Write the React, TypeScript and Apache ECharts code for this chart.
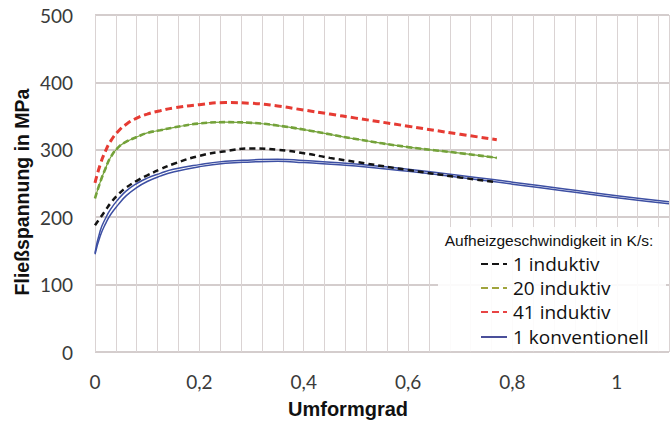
import React, { useEffect, useRef } from "react";
import * as echarts from "echarts";

const seriesNames = ["1 induktiv", "20 induktiv", "41 induktiv", "1 konventionell"];
const legendTitle = "Aufheizgeschwindigkeit in K/s:";
const xTitle = "Umformgrad";
const yTitle = "Fließspannung in MPa";
const xTickLabels = ["0", "0,2", "0,4", "0,6", "0,8", "1"];

const xInd = [0, 0.01, 0.02, 0.03, 0.045, 0.06, 0.08, 0.1, 0.125, 0.15, 0.2, 0.25, 0.3, 0.35, 0.4, 0.45, 0.5, 0.6, 0.7, 0.77];
const yBlack = [188, 199, 210, 221, 234, 244, 254, 262, 271, 279, 291, 298, 302, 300, 295, 288, 282, 270, 259, 252];
const yGreen = [228, 252, 272, 289, 304, 312, 319, 325, 329, 333, 339, 341, 340, 336, 330, 323, 316, 304, 295, 288];
const yRed = [251, 278, 298, 313, 328, 338, 347, 353, 358, 362, 367, 370, 369, 365, 359, 353, 347, 335, 323, 315];

const xKonv = [0, 0.01, 0.02, 0.03, 0.045, 0.06, 0.08, 0.1, 0.125, 0.15, 0.2, 0.25, 0.3, 0.35, 0.4, 0.5, 0.6, 0.7, 0.8, 0.9, 1.0, 1.1];
const yBlueA = [145, 172, 190, 204, 219, 232, 244, 253, 261, 267, 275, 280, 282, 283, 281, 276, 268, 259, 249, 239, 229, 220];
const yBlueB = [147, 180, 198, 212, 227, 239, 250, 258, 265, 271, 278, 283, 285, 286, 284, 279, 271, 262, 252, 242, 232, 223];

const pairs = (xs: number[], ys: number[]) => xs.map((x, i) => [x, ys[i]]);

export default function App() {
  const ref = useRef<HTMLDivElement>(null);
  useEffect(() => {
    if (!ref.current) return;
    const chart = echarts.init(ref.current, null, { renderer: "svg" });
    const black = "#141414";
    const green = "#74a23a";
    const red = "#e63b33";
    const blue = "#3d4fa3";
    const lineBase = { type: "line", showSymbol: false, symbol: "none", smooth: 0.5 };
    const legendRows = [264, 288, 312, 337];
    const legendColors = [black, "#a0a43c", "#e84444", "#4a4f9a"];
    const legendDash = [[7, 4], [7, 4], [7, 4], null];
    const graphics: any[] = [
      { type: "rect", shape: { x: 438, y: 227, width: 228, height: 124 }, style: { fill: "rgba(255,255,255,0.9)" }, z: 10 },
      { type: "text", x: 549, y: 240, z: 11, style: { text: legendTitle, font: "15.5px 'Liberation Sans'", lineHeight: 16, fill: "#111", align: "center", verticalAlign: "middle" } },
      { type: "text", x: 22, y: 192, rotation: Math.PI / 2, z: 11, style: { text: yTitle, font: "bold 19.5px 'Liberation Sans'", fill: "#111", align: "center", verticalAlign: "middle" } },
      { type: "text", x: 348, y: 409, z: 11, style: { text: xTitle, font: "bold 20px 'Liberation Sans'", fill: "#111", align: "center", verticalAlign: "middle" } },
    ];
    seriesNames.forEach((n, i) => {
      graphics.push({
        type: "line", z: 11,
        shape: { x1: 481, y1: legendRows[i], x2: 507, y2: legendRows[i] },
        style: { stroke: legendColors[i], lineWidth: 2, lineDash: legendDash[i] || undefined },
      });
      graphics.push({
        type: "text", x: 513, y: legendRows[i], z: 11,
        style: { text: n, font: "19px 'Open Sans'", lineHeight: 20, fill: "#111", align: "left", verticalAlign: "middle" },
      });
    });
    chart.setOption({
      animation: false,
      grid: { left: 95, right: 1, top: 15, bottom: 71 },
      xAxis: {
        type: "value", min: 0, max: 1.1, interval: 0.04,
        axisLine: { show: false }, axisTick: { show: false },
        axisLabel: {
          interval: 0, margin: 20, fontFamily: "Lato", fontSize: 19, color: "#3a3a3a",
          formatter: (v: number) => {
            const k = Math.round(v / 0.2);
            if (Math.abs(v - k * 0.2) < 1e-6 && k < xTickLabels.length) return xTickLabels[k];
            return "";
          },
        },
        splitLine: { show: true, lineStyle: { color: "#dad3d3", width: 1 } },
      },
      yAxis: {
        type: "value", min: 0, max: 500, interval: 100,
        axisLine: { show: false }, axisTick: { show: false },
        axisLabel: { margin: 22, fontFamily: "Lato", fontSize: 19, color: "#3a3a3a" },
        splitLine: { show: true, lineStyle: { color: "#c6bcbc", width: 1.5 } },
      },
      graphic: graphics,
      series: [
        { ...lineBase, name: seriesNames[3], data: pairs(xKonv, yBlueA), lineStyle: { color: blue, width: 1.5 } },
        { ...lineBase, name: seriesNames[3] + " b", data: pairs(xKonv, yBlueB), lineStyle: { color: blue, width: 1.5 } },
        { ...lineBase, name: seriesNames[0], data: pairs(xInd, yBlack), lineStyle: { color: black, width: 2.5, type: [6, 4] } },
        { ...lineBase, name: seriesNames[1] + " b", data: pairs(xInd, yGreen), lineStyle: { color: green, width: 1.2 } },
        { ...lineBase, name: seriesNames[1], data: pairs(xInd, yGreen), lineStyle: { color: green, width: 2.6, type: [6, 3] } },
        { ...lineBase, name: seriesNames[2], data: pairs(xInd, yRed), lineStyle: { color: red, width: 3, type: [7, 4] } },
      ],
    });
    return () => chart.dispose();
  }, []);
  return <div ref={ref} style={{ position: "fixed", left: 0, top: 0, width: 672, height: 423, background: "#fff" }} />;
}
